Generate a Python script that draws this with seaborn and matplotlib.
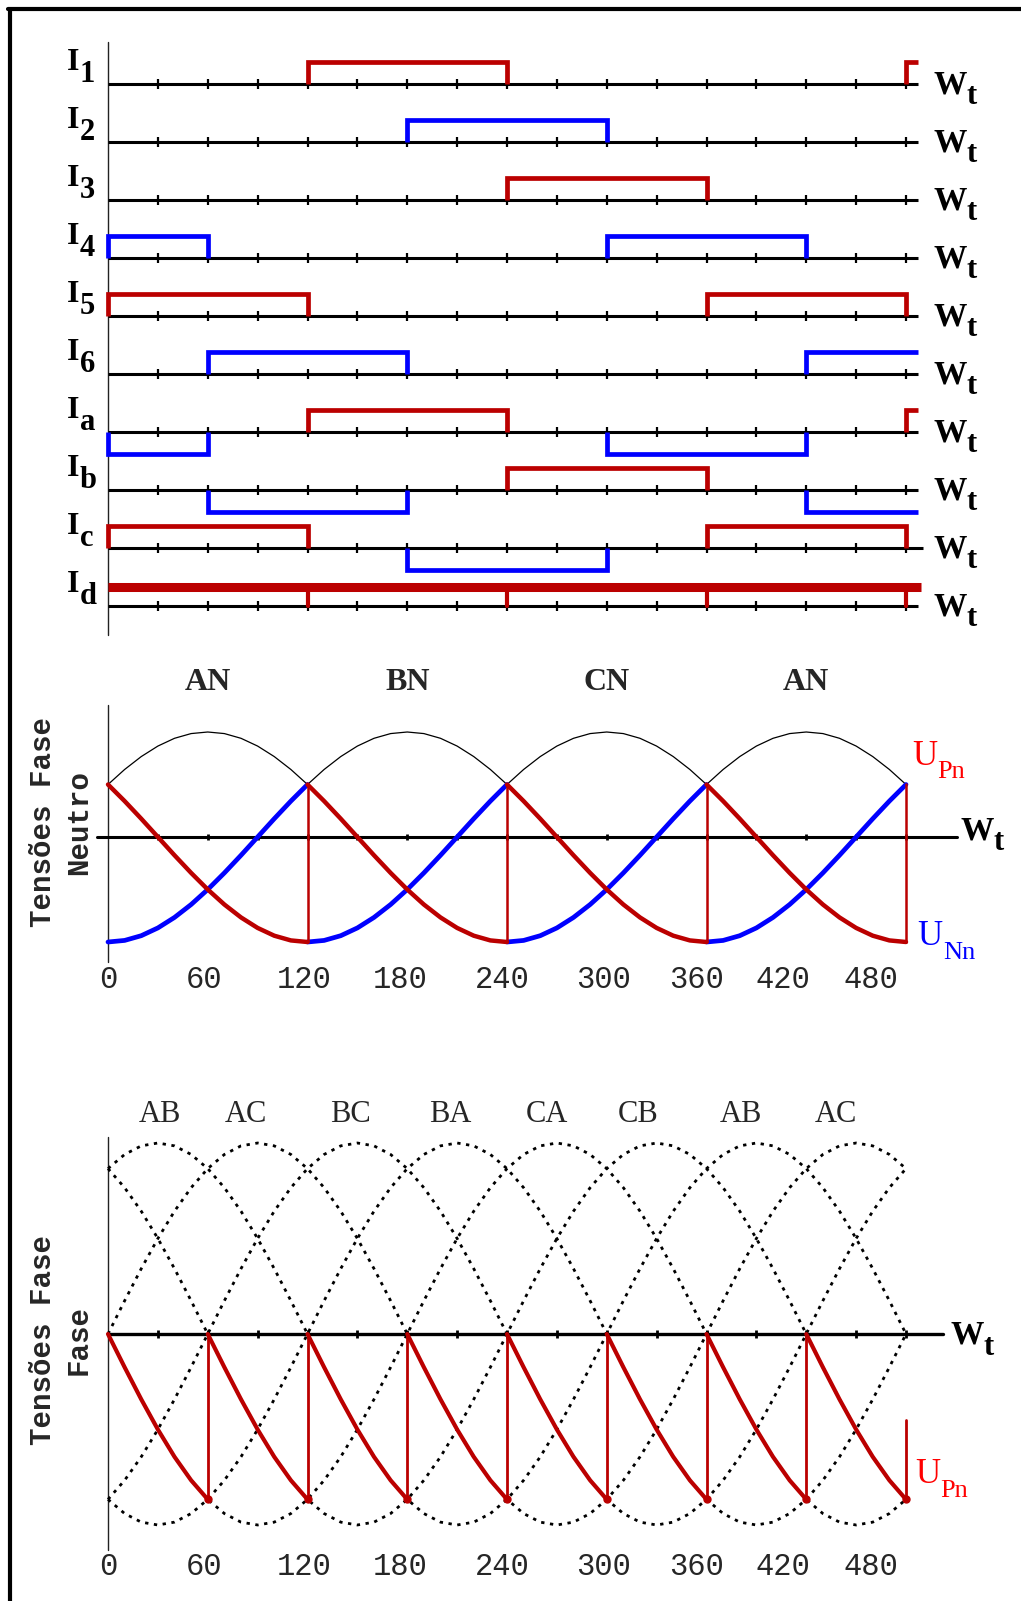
import matplotlib
matplotlib.use("Agg")
import matplotlib.pyplot as plt
import seaborn as sns
import numpy as np
from matplotlib.lines import Line2D

# ----------------------------- data -----------------------------
# top block: conduction pattern per 60-degree interval (0-60, ..., 420-480, stub after 480)
step_starts = [0, 60, 120, 180, 240, 300, 360, 420, 480]
trace_end = 487
trace_names = ["1", "2", "3", "4", "5", "6", "a", "b", "c", "d"]
levels_I1 = [0, 0, 1, 1, 0, 0, 0, 0, 1]
levels_I2 = [0, 0, 0, 1, 1, 0, 0, 0, 0]
levels_I3 = [0, 0, 0, 0, 1, 1, 0, 0, 0]
levels_I4 = [1, 0, 0, 0, 0, 1, 1, 0, 0]
levels_I5 = [1, 1, 0, 0, 0, 0, 1, 1, 0]
levels_I6 = [0, 1, 1, 0, 0, 0, 0, 1, 1]
levels_Ia = [-1, 0, 1, 1, 0, -1, -1, 0, 1]
levels_Ib = [0, -1, -1, 0, 1, 1, 0, -1, -1]
levels_Ic = [1, 1, 0, -1, -1, 0, 1, 1, 0]
Id_level = 0.85
Id_end = 489
Id_drop_deg = [120, 240, 360, 480]
top_tick_deg = list(range(30, 481, 30))

# middle block: phase-neutral voltages, one 120-degree period sampled every 10 degrees
mid_period_deg = [0, 10, 20, 30, 40, 50, 60, 70, 80, 90, 100, 110, 120]
mid_arc = [0.50, 0.643, 0.766, 0.866, 0.940, 0.985, 1.00, 0.985, 0.940, 0.866, 0.766, 0.643, 0.50]
mid_upn = [0.50, 0.342, 0.174, 0.00, -0.174, -0.342, -0.50, -0.643, -0.766, -0.866, -0.940, -0.985, -1.00]
mid_unn = [-1.00, -0.985, -0.940, -0.866, -0.766, -0.643, -0.50, -0.342, -0.174, 0.00, 0.174, 0.342, 0.50]
mid_period_starts = [0, 120, 240, 360]
mid_labels = ["AN", "BN", "CN", "AN"]
mid_label_deg = [60, 180, 300, 420]
mid_tick_deg = list(range(30, 481, 30))

# bottom block: line-line voltages, one full period sampled every 10 degrees
sine_deg = list(range(0, 360, 10))
sine_shape = [0.0, 0.174, 0.342, 0.50, 0.643, 0.766, 0.866, 0.940, 0.985, 1.0,
              0.985, 0.940, 0.866, 0.766, 0.643, 0.50, 0.342, 0.174,
              0.0, -0.174, -0.342, -0.50, -0.643, -0.766, -0.866, -0.940, -0.985, -1.0,
              -0.985, -0.940, -0.866, -0.766, -0.643, -0.50, -0.342, -0.174]
phase_shifts = [0, 60, 120, 180, 240, 300]
bot_theta = list(range(0, 481, 10))
bot_seg_deg = [0, 10, 20, 30, 40, 50, 60]
bot_upn = [0.0, -0.174, -0.342, -0.50, -0.643, -0.766, -0.866]
bot_period_starts = [0, 60, 120, 180, 240, 300, 360, 420]
bot_last_stub_top = -0.45
bot_labels = ["AB", "AC", "BC", "BA", "CA", "CB", "AB", "AC"]
bot_label_deg = [31, 83, 146, 206, 264, 319, 381, 438]
bot_tick_deg = list(range(30, 481, 30))

xtick_labels = ["0", "60", "120", "180", "240", "300", "360", "420", "480"]
xtick_label_deg = [0, 58, 118, 176, 237, 298, 354, 406, 459]

# ----------------------------- style -----------------------------
sns.set_theme(style="white")
plt.rcParams["font.family"] = ["Liberation Serif", "DejaVu Serif"]
RED = "#BB0000"
BLUE = "#0000FF"
LRED = "#FF0000"
SERIF = "Liberation Serif"
MONO = "Liberation Mono"

W, H = 1021, 1601
X0, PPD = 108.0, 1.6625
fig = plt.figure(figsize=(W / 100, H / 100), dpi=100)
fig.patch.set_facecolor("white")


def make_ax(top_px, bot_px, y_top, y_bot):
    ax = fig.add_axes([0, 1 - bot_px / H, 1, (bot_px - top_px) / H])
    ax.set_xlim(-X0 / PPD, (W - X0) / PPD)
    ax.set_ylim(y_bot, y_top)
    ax.axis("off")
    return ax


def line(ax, x, y, **kw):
    sns.lineplot(x=np.asarray(x, float), y=np.asarray(y, float), ax=ax, sort=False,
                 estimator=None, legend=False, **kw)


def sub_text(ax, x, y, base, sub, color, size, subsize, family, weight="normal",
             subweight=None, dy=-3.0, dx=0.0):
    t = ax.text(x, y, base, color=color, fontsize=size, family=family, weight=weight,
                ha="left", va="baseline")
    ax.annotate(sub, xy=(1, 0), xycoords=t, xytext=(dx, dy), textcoords="offset points",
                color=color, fontsize=subsize, family=family,
                weight=subweight or weight, ha="left", va="baseline")


# frame
fig.add_artist(Line2D([9.5 / W, 9.5 / W], [0, 1 - 9.5 / H], color="black", lw=3.0,
                      transform=fig.transFigure))
fig.add_artist(Line2D([8 / W, 1], [1 - 9.5 / H, 1 - 9.5 / H], color="black", lw=3.0,
                      transform=fig.transFigure))

# ----------------------------- top block -----------------------------
SP = 58.0
axT = make_ax(0, 640, 84 / SP, -(640 - 84) / SP)
PH = 0.38
all_levels = [levels_I1, levels_I2, levels_I3, levels_I4, levels_I5, levels_I6,
              levels_Ia, levels_Ib, levels_Ic]
pos_colors = [RED, BLUE, RED, BLUE, RED, BLUE, RED, RED, RED]
ends = step_starts[1:] + [trace_end]

axT.plot([0, 0], [0.72, -9.5], color="#222222", lw=1.0)
for k, name in enumerate(trace_names):
    base = -k
    axend = trace_end + (3 if name == "c" else 0)
    axT.plot([0, axend], [base, base], color="black", lw=2.2, zorder=2,
             solid_capstyle="butt")
    axT.plot(top_tick_deg, [base] * len(top_tick_deg), ls="none", marker="|",
             ms=7, mew=1.6, color="black", zorder=2)
    sub_text(axT, -24.5, base + 0.24, "I", name, "black", 23, 22, SERIF,
             weight="bold", dy=-3.5)
    sub_text(axT, 496.5, base - 0.16, "W", "t", "black", 24, 22, SERIF,
             weight="bold", dy=-3.0)
    if name == "d":
        continue
    lv = all_levels[k]
    i = 0
    while i < len(lv):
        if lv[i] == 0:
            i += 1
            continue
        j = i
        while j + 1 < len(lv) and lv[j + 1] == lv[i]:
            j += 1
        s, e = step_starts[i], ends[j]
        h = base + PH * lv[i]
        col = pos_colors[k] if lv[i] > 0 else BLUE
        if j + 1 == len(lv):
            xs, ys = [s, s, e], [base, h, h]
        else:
            xs, ys = [s, s, e, e], [base, h, h, base]
        line(axT, xs, ys, color=col, lw=3.4, zorder=3,
             solid_joinstyle="miter", solid_capstyle="butt")
        i = j + 1

# Id
baseD = -9
line(axT, [0, Id_end], [baseD + PH * Id_level] * 2, color=RED, lw=6.5, zorder=3,
     solid_capstyle="butt")
for d in Id_drop_deg:
    line(axT, [d, d], [baseD, baseD + PH * Id_level], color=RED, lw=3.0, zorder=3)

# ----------------------------- middle block -----------------------------
AM = 105.0
axM = make_ax(640, 1010, (837 - 640) / AM, (837 - 1010) / AM)
axM.plot([0, 0], [1.257, -1.19], color="#222222", lw=1.0)
axM.plot([-6.6, 510.7], [0, 0], color="black", lw=2.2, zorder=2)
axM.plot(mid_tick_deg, [0] * len(mid_tick_deg), ls="none", marker="|", ms=5,
         mew=2.0, color="black", zorder=2)

arc_x, arc_y = [], []
for p in mid_period_starts:
    arc_x += [p + d for d in mid_period_deg]
    arc_y += mid_arc
line(axM, arc_x, arc_y, color="black", lw=0.9, zorder=3)
for p in mid_period_starts:
    xs = [p + d for d in mid_period_deg]
    line(axM, xs, mid_unn, color=BLUE, lw=3.4, zorder=4)
    line(axM, xs, mid_upn, color=RED, lw=3.2, zorder=5)
    line(axM, [p + 120, p + 120], [mid_upn[-1], mid_upn[0]], color=RED, lw=1.8, zorder=5)

for lab, d in zip(mid_labels, mid_label_deg):
    axM.text(d, 1.467, lab, ha="center", va="center", fontsize=23, family=SERIF,
             weight="bold")
for lab, d in zip(xtick_labels, xtick_label_deg):
    axM.text(d, -1.362, lab, ha="center", va="center", fontsize=22, family=MONO)
sub_text(axM, 512.5, -0.02, "W", "t", "black", 24, 22, SERIF, weight="bold", dy=-3.0)
sub_text(axM, 483.6, 0.69, "U", "Pn", LRED, 25, 19, SERIF, dy=-4.0)
sub_text(axM, 487.0, -1.03, "U", "Nn", BLUE, 25, 19, SERIF, dy=-4.0)
fig.text(61 / W, 1 - 822 / H, "Tensões Fase\nNeutro", rotation=90, ha="center",
         va="center", fontsize=21, family=MONO, weight="bold", linespacing=1.35,
         multialignment="center")

# ----------------------------- bottom block -----------------------------
AB = 191.0
axB = make_ax(1010, 1601, (1334 - 1010) / AB, (1334 - 1601) / AB)
axB.plot([0, 0], [1.031, -1.131], color="#222222", lw=1.0)
axB.plot([0, 502], [0, 0], color="black", lw=2.4, zorder=2)
axB.plot(bot_tick_deg, [0] * len(bot_tick_deg), ls="none", marker="|", ms=6,
         mew=2.0, color="black", zorder=2)

for ph in phase_shifts:
    ys = [sine_shape[((t + ph) // 10) % 36] for t in bot_theta]
    line(axB, bot_theta, ys, color="black", lw=2.0, zorder=3,
         linestyle=(0, (1.2, 2.0)))

for p in bot_period_starts:
    xs = [p + d for d in bot_seg_deg]
    line(axB, xs, bot_upn, color=RED, lw=3.0, zorder=5)
    top = 0.0 if p + 60 < 480 else bot_last_stub_top
    line(axB, [p + 60, p + 60], [bot_upn[-1], top], color=RED, lw=2.0, zorder=5)
axB.plot([p + 60 for p in bot_period_starts], [bot_upn[-1]] * len(bot_period_starts),
         ls="none", marker="o", ms=5, color=RED, zorder=6)

for lab, d in zip(bot_labels, bot_label_deg):
    axB.text(d, 1.147, lab, ha="center", va="center", fontsize=22, family=SERIF)
for lab, d in zip(xtick_labels, xtick_label_deg):
    axB.text(d, -1.22, lab, ha="center", va="center", fontsize=22, family=MONO)
sub_text(axB, 506.5, -0.05, "W", "t", "black", 24, 22, SERIF, weight="bold", dy=-3.0)
sub_text(axB, 485.4, -0.78, "U", "Pn", LRED, 25, 19, SERIF, dy=-4.0)
fig.text(61 / W, 1 - 1340 / H, "Tensões Fase\nFase", rotation=90, ha="center",
         va="center", fontsize=21, family=MONO, weight="bold", linespacing=1.35,
         multialignment="center")

fig.savefig("out.png", dpi=100, facecolor="white")
